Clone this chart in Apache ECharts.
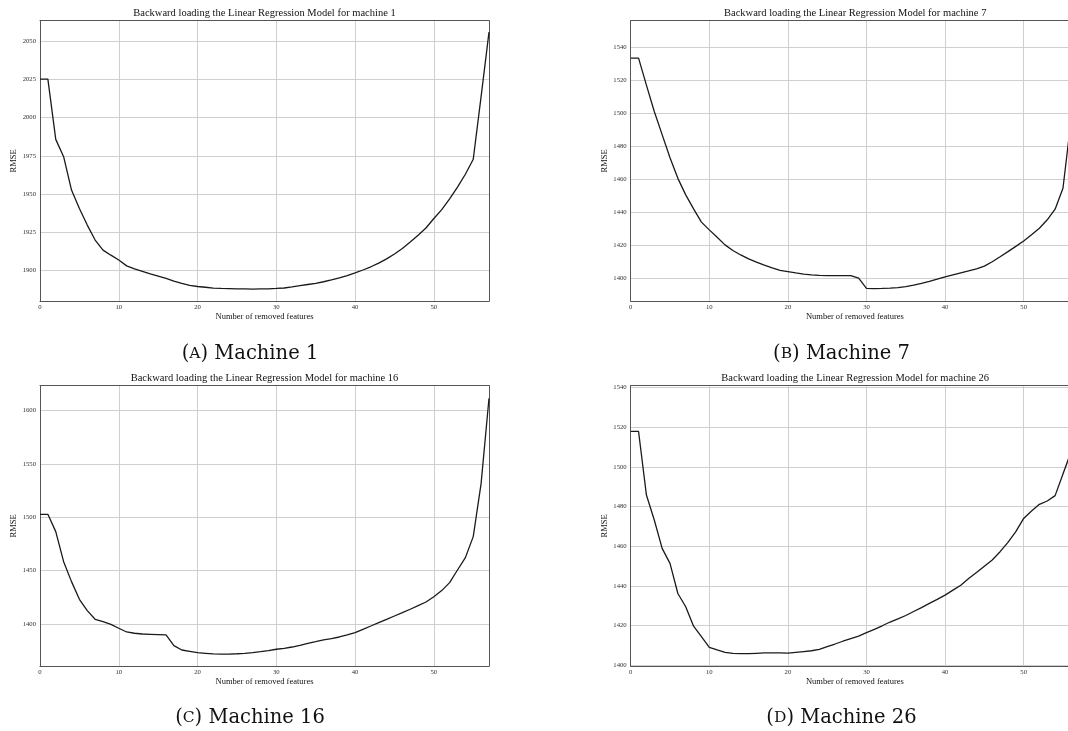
<!DOCTYPE html>
<html>
<head>
<meta charset="utf-8">
<script src="https://cdn.jsdelivr.net/npm/echarts@6/dist/echarts.min.js"></script>
<style>
  html, body { margin: 0; padding: 0; background: #fff; }
  #chart { width: 1068px; height: 731px; }
</style>
</head>
<body>
<div id="chart"></div>
<script>
// number of removed features (x)
const features = [0, 1, 2, 3, 4, 5, 6, 7, 8, 9, 10, 11, 12, 13, 14, 15, 16, 17, 18, 19,
  20, 21, 22, 23, 24, 25, 26, 27, 28, 29, 30, 31, 32, 33, 34, 35, 36, 37, 38, 39,
  40, 41, 42, 43, 44, 45, 46, 47, 48, 49, 50, 51, 52, 53, 54, 55, 56, 57]

// RMSE per machine
const machine1 = [2025.3, 2025.3, 1985.8, 1974.5, 1952.6, 1940.6, 1929.7, 1919.9, 1913.3, 1910.0,
  1906.8, 1903.0, 1901.0, 1899.4, 1897.8, 1896.3, 1894.8, 1893.0, 1891.5, 1890.2,
  1889.5, 1889.0, 1888.4, 1888.2, 1888.1, 1888.0, 1887.9, 1887.8, 1887.9, 1888.0,
  1888.2, 1888.5, 1889.2, 1890.0, 1890.8, 1891.6, 1892.6, 1893.8, 1895.1, 1896.6,
  1898.4, 1900.3, 1902.4, 1904.8, 1907.6, 1910.8, 1914.4, 1918.6, 1923.0, 1927.8,
  1934.0, 1939.8, 1946.8, 1954.6, 1963.0, 1972.8, 2014.0, 2056.0]
const machine7 = [1533.3, 1533.3, 1517.0, 1501.0, 1487.0, 1473.0, 1460.5, 1450.5, 1442.0, 1434.0,
  1429.3, 1424.8, 1420.2, 1416.8, 1414.1, 1411.7, 1409.7, 1407.9, 1406.3, 1404.8,
  1404.0, 1403.2, 1402.5, 1402.0, 1401.7, 1401.6, 1401.6, 1401.6, 1401.6, 1400.0,
  1393.9, 1393.7, 1393.8, 1394.0, 1394.3, 1394.9, 1395.8, 1396.9, 1398.1, 1399.4,
  1400.8, 1402.0, 1403.2, 1404.4, 1405.7, 1407.3, 1410.0, 1413.0, 1416.1, 1419.3,
  1422.6, 1426.3, 1430.3, 1435.4, 1441.8, 1454.5, 1494.7]
const machine16 = [1502.8, 1502.8, 1486.6, 1458.4, 1439.7, 1423.1, 1412.5, 1404.4, 1402.2, 1399.7,
  1396.0, 1392.5, 1391.3, 1390.6, 1390.3, 1390.0, 1389.7, 1379.7, 1375.6, 1374.4,
  1373.1, 1372.5, 1371.9, 1371.8, 1371.8, 1372.1, 1372.5, 1373.1, 1374.0, 1375.0,
  1376.3, 1377.2, 1378.4, 1380.0, 1381.9, 1383.4, 1385.0, 1386.3, 1387.8, 1389.7,
  1391.9, 1395.0, 1398.1, 1401.3, 1404.4, 1407.5, 1410.6, 1413.8, 1417.2, 1420.6,
  1425.6, 1431.3, 1438.8, 1450.6, 1462.2, 1481.9, 1531.9, 1611.6]
const machine26 = [1517.9, 1517.9, 1485.8, 1473.2, 1458.9, 1451.3, 1436.1, 1429.4, 1419.6, 1414.3,
  1408.9, 1407.6, 1406.4, 1405.9, 1405.7, 1405.7, 1405.9, 1406.1, 1406.1, 1406.1,
  1406.0, 1406.4, 1406.8, 1407.2, 1407.9, 1409.3, 1410.6, 1412.0, 1413.3, 1414.6,
  1416.3, 1418.0, 1419.8, 1421.7, 1423.3, 1425.0, 1427.0, 1429.0, 1431.1, 1433.1,
  1435.3, 1437.8, 1440.3, 1443.7, 1446.7, 1449.9, 1453.0, 1457.2, 1461.9, 1467.3,
  1474.0, 1477.7, 1481.1, 1482.8, 1485.5, 1496.4, 1507.3]

// tick labels
const xTicks = [0, 10, 20, 30, 40, 50]
const yTicks1 = [1900, 1925, 1950, 1975, 2000, 2025, 2050]
const yTicks7 = [1400, 1420, 1440, 1460, 1480, 1500, 1520, 1540]
const yTicks16 = [1400, 1450, 1500, 1550, 1600]
const yTicks26 = [1400, 1420, 1440, 1460, 1480, 1500, 1520, 1540]

// right-hand panels are cut by the page edge, so their x range stops early
const panels = [
  { machine: 1, caption: 'A', values: machine1, yTicks: yTicks1, yMin: 1880, yMax: 2063.5, xMax: 57, left: 40, top: 20.7, width: 449, cut: false },
  { machine: 7, caption: 'B', values: machine7, yTicks: yTicks7, yMin: 1386.2, yMax: 1556, xMax: 55.64, left: 630.7, top: 20.7, width: 437.3, cut: true },
  { machine: 16, caption: 'C', values: machine16, yTicks: yTicks16, yMin: 1360.6, yMax: 1623.4, xMax: 57, left: 40, top: 385.7, width: 449, cut: false },
  { machine: 26, caption: 'D', values: machine26, yTicks: yTicks26, yMin: 1399.5, yMax: 1541, xMax: 55.64, left: 630.7, top: 385.7, width: 437.3, cut: true }
]
const fullW = 449
const plotH = 280.3
const captionPos = [[250, 354], [841.5, 354], [250, 717.5], [841.5, 717.5]]

const frame = { show: true, onZero: false, lineStyle: { color: '#555', width: 1 } }
const tickFont = { fontFamily: 'Liberation Serif', fontSize: 6.7, color: '#333', formatter: v => String(v) }
const nameFont = { fontFamily: 'Liberation Serif', fontSize: 8.5, color: '#111' }
const gridLine = { show: true, lineStyle: { color: '#cfcfcf', width: 1 } }

const xAxes = panels.map((p, i) => ({
  type: 'value', gridIndex: i, min: 0, max: p.xMax, position: 'bottom',
  name: 'Number of removed features', nameLocation: 'middle', nameGap: 8,
  nameTextStyle: Object.assign({ padding: p.cut ? [0, 0, 0, 11] : 0 }, nameFont),
  axisLine: frame,
  axisTick: { show: false, customValues: xTicks },
  axisLabel: Object.assign({ customValues: xTicks, margin: 3 }, tickFont),
  splitLine: gridLine
})).concat(panels.map((p, i) => ({
  type: 'value', gridIndex: i, min: 0, max: p.xMax, position: 'top',
  axisLine: frame, axisTick: { show: false }, axisLabel: { show: false }, splitLine: { show: false }
})))

const yAxes = panels.map((p, i) => ({
  type: 'value', gridIndex: i, min: p.yMin, max: p.yMax, position: 'left',
  name: 'RMSE', nameLocation: 'middle', nameGap: 18,
  nameTextStyle: nameFont,
  axisLine: frame,
  axisTick: { show: false, customValues: p.yTicks },
  axisLabel: Object.assign({ customValues: p.yTicks, margin: 4 }, tickFont),
  splitLine: gridLine
})).concat(panels.map((p, i) => ({ p, i })).filter(d => !d.p.cut).map(d => ({
  type: 'value', gridIndex: d.i, min: d.p.yMin, max: d.p.yMax, position: 'right',
  axisLine: frame, axisTick: { show: false }, axisLabel: { show: false }, splitLine: { show: false }
})))

const option = {
  animation: false,
  backgroundColor: '#fff',
  grid: panels.map(p => ({ left: p.left, top: p.top, width: p.width, height: plotH, show: false })),
  xAxis: xAxes,
  yAxis: yAxes,
  series: panels.map((p, i) => ({
    type: 'line', xAxisIndex: i, yAxisIndex: i,
    data: p.values.map((v, k) => [features[k], v]),
    showSymbol: false, smooth: false,
    lineStyle: { color: '#1a1a1a', width: 1.3 }
  })),
  graphic: panels.map(p => ({
    type: 'text', x: p.left + fullW / 2, y: p.top - 7,
    style: {
      text: 'Backward loading the Linear Regression Model for machine ' + p.machine,
      textAlign: 'center', textVerticalAlign: 'middle',
      font: '10.5px "Liberation Serif"', fill: '#111'
    }
  })).concat(panels.map((p, i) => ({
    type: 'text', x: captionPos[i][0], y: captionPos[i][1],
    style: {
      text: '(' + '{s|' + p.caption + '}' + ') Machine ' + p.machine,
      textAlign: 'center', textVerticalAlign: 'middle',
      font: '19.5px "DejaVu Serif"', fill: '#111',
      rich: { s: { fontSize: 15.5, fontFamily: 'DejaVu Serif', fill: '#111' } }
    }
  })))
}

const chart = echarts.init(document.getElementById('chart'))
chart.setOption(option)
</script>
</body>
</html>
